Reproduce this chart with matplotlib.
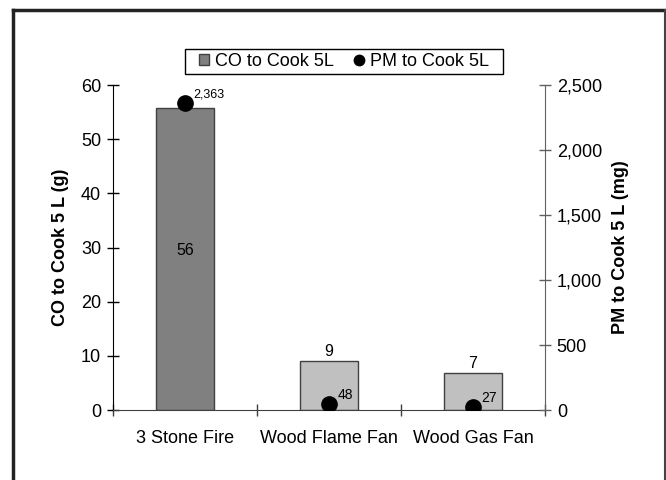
import numpy as np
import matplotlib.pyplot as plt
from matplotlib.lines import Line2D
from matplotlib.patches import Rectangle

plt.rcParams['font.family'] = ['Liberation Sans', 'DejaVu Sans']

stoves = ['3 Stone Fire', 'Wood Flame Fan', 'Wood Gas Fan']
co_g = [55.7, 9.1, 6.9]
pm_mg = [2363, 48, 27]
bar_colors = ['#808080', '#c0c0c0', '#c0c0c0']

fig = plt.figure(figsize=(6.66, 4.8), dpi=100)
ax = fig.add_axes([0.1697, 0.1458, 0.6486, 0.677])
ax2 = ax.twinx()

x = np.arange(len(stoves))
bars = ax.bar(x, co_g, width=0.4, color=bar_colors, edgecolor='#404040',
              linewidth=1, label='CO to Cook 5L', zorder=2)
ax.set_xlim(-0.5, len(stoves) - 0.5)
ax.set_ylim(0, 60)
ax.set_yticks(range(0, 61, 10))

# bar value labels: first one inside, the rest on top
ax.text(x[0], co_g[0] * 0.53, '%.0f' % co_g[0], ha='center', va='center', fontsize=11.5)
for i in range(1, len(stoves)):
    ax.text(x[i], co_g[i] + 0.3, '%.0f' % co_g[i], ha='center', va='bottom', fontsize=11.5)

pts, = ax2.plot(x, pm_mg, linestyle='none', marker='o', markersize=11,
                color='black', label='PM to Cook 5L', zorder=3)
ax2.set_ylim(0, 2500)
ax2.set_yticks(range(0, 2501, 500))
ax2.set_yticklabels(['{:,}'.format(v) for v in range(0, 2501, 500)])
for i, v in enumerate(pm_mg):
    ax2.annotate('{:,}'.format(v), (x[i], v), xytext=(6, 6), textcoords='offset points',
                 ha='left', va='center', fontsize=9 if v > 1000 else 10)

# category boundary ticks
ax.set_xticks([])
ax.set_xticks(np.arange(-0.5, len(stoves)), minor=True)
ax.tick_params(axis='x', which='minor', direction='inout', length=9, width=1, color='#404040')
for i, s in enumerate(stoves):
    ax.text(x[i], -5.2, s, ha='center', va='center', fontsize=13)

ax.tick_params(axis='y', direction='inout', length=9, width=1, pad=4, labelsize=13)
ax2.tick_params(axis='y', direction='inout', length=9, width=1, pad=4, labelsize=13,
                color='#606060')

for a in (ax, ax2):
    a.spines['top'].set_visible(False)
ax.spines['left'].set_color('black')
ax2.spines['left'].set_visible(False)
ax.spines['right'].set_visible(False)
ax2.spines['right'].set_color('#606060')
ax.spines['bottom'].set_color('#404040')
ax2.spines['bottom'].set_visible(False)

ax.set_ylabel('CO to Cook 5 L (g)', fontsize=13, fontweight='bold')
ax2.set_ylabel('PM to Cook 5 L (mg)', fontsize=13, fontweight='bold')
ax.yaxis.set_label_coords(-0.101, 0.5)
ax2.yaxis.set_label_coords(1.155, 0.5)

leg = fig.legend([bars, pts], ['CO to Cook 5L', 'PM to Cook 5L'], loc='center',
                 bbox_to_anchor=(344 / 666, 1 - 61.5 / 480), ncol=2, fontsize=13,
                 frameon=False, handlelength=0.55, handleheight=0.55, handletextpad=0.35,
                 columnspacing=1.1, borderpad=0, borderaxespad=0)
leg.legend_handles[1].set_markersize(7.5)
fig.add_artist(Rectangle((185 / 666, 1 - 74 / 480), 318 / 666, 25 / 480,
                         transform=fig.transFigure, facecolor='none',
                         edgecolor='black', linewidth=1))

# outer chart frame
fig.add_artist(Line2D([13 / 666, 665 / 666], [1 - 10 / 480, 1 - 10 / 480],
                      transform=fig.transFigure, color='#222222', linewidth=2.5))
fig.add_artist(Line2D([13 / 666, 13 / 666], [-0.01, 1 - 10 / 480],
                      transform=fig.transFigure, color='#222222', linewidth=2.5))
fig.add_artist(Line2D([665 / 666, 665 / 666], [-0.01, 1 - 10 / 480],
                      transform=fig.transFigure, color='#444444', linewidth=1.5))

fig.savefig('out.png', dpi=100)
